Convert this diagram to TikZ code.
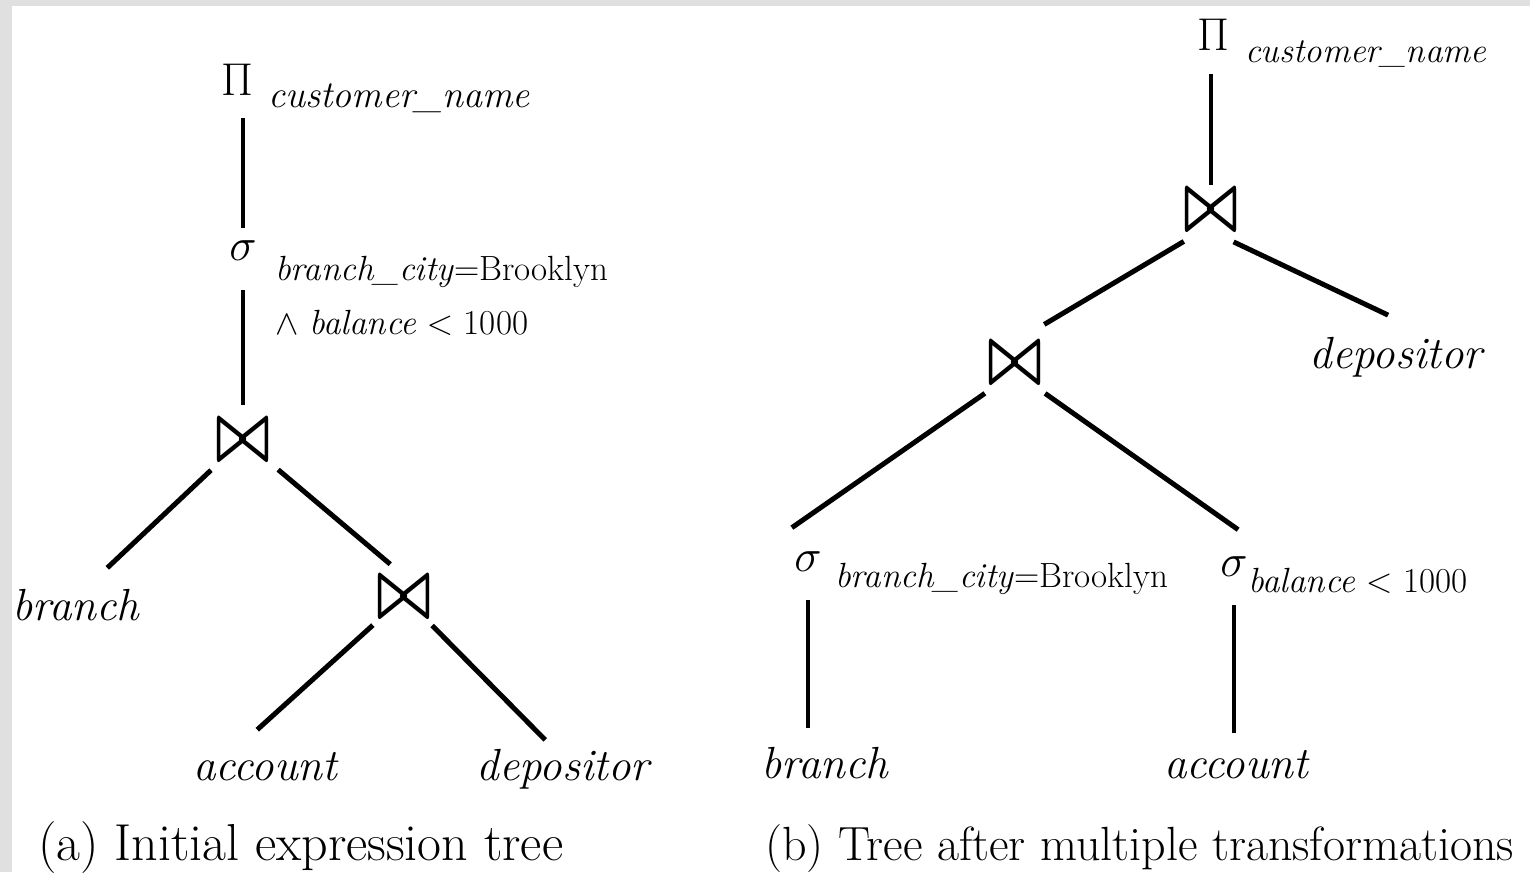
\RequirePackage{fix-cm}
\documentclass[tikz,border=0pt]{standalone}
\usepackage{fontspec}
\usepackage{graphicx}
\newcommand{\joinsym}{\scalebox{1.25}[1.75]{\boldmath$\bowtie$}}
\tikzset{
  op/.style={inner sep=0pt, minimum width=48pt, minimum height=42pt, font=\fontsize{46}{55}\selectfont},
  leaf/.style={inner sep=0pt, text height=30pt, text depth=10pt, anchor=base, font=\fontsize{45}{54}\selectfont\itshape},
  cond/.style={inner sep=0pt, anchor=base west, font=\fontsize{35}{42}\selectfont},
  caption/.style={inner sep=0pt, anchor=base west, font=\fontsize{48}{58}\selectfont},
  edge/.style={line width=5pt},
  stem/.style={line width=3.5pt},
}
\begin{document}
\begin{tikzpicture}[x=1pt,y=-1pt]
      \fill[black!12] (0,0) rectangle (1530,872);
      \fill[white] (12,6) rectangle (1530,872);
      \useasboundingbox (0,0) rectangle (1530,872);
      % (a) initial tree
      \node[op] (piL) at (237,80) {$\Pi$};
      \node[cond, font=\fontsize{38}{46}\selectfont] (piLsub) at (268,108) {\itshape customer\_name};
      \node[op] (sigL) at (243,251) {$\sigma$};
      \node[cond] (sigLsub) at (275,280) {\textit{branch\_city}=Brooklyn};
      \node[cond] (sigLsub2) at (275,334) {$\wedge$ \textit{balance} $<$ 1000};
      \node[op] (joinL1) at (243,440) {\joinsym};
      \node[leaf] (branchL) at (76,620) {branch};
      \node[op] (joinL2) at (404,597) {\joinsym};
      \node[leaf] (accountL) at (265,780) {account};
      \node[leaf] (depositorL) at (563,780) {depositor};
      \draw[stem, shorten <=38pt, shorten >=23pt] (piL.center -| sigL.center) -- (sigL.center);
      \draw[stem, shorten <=39pt, shorten >=35pt] (sigL.center) -- (joinL1.center);
      \draw[edge, shorten <=44pt, shorten >=32pt] (joinL1.center) -- ([xshift=8pt]branchL.north);
      \draw[edge, shorten <=46pt, shorten >=18pt] (joinL1.center) -- (joinL2.north);
      \draw[edge, shorten <=42pt, shorten >=30pt] (joinL2.center) -- ([xshift=-30pt]accountL.north);
      \draw[edge, shorten <=40pt, shorten >=14pt] (joinL2.center) -- ([xshift=-8pt]depositorL.north);
      % (b) transformed tree
      \node[op] (piR) at (1213,35) {$\Pi$};
      \node[cond] (piRsub) at (1245,63) {\itshape customer\_name};
      \node[op] (joinR1) at (1211,210) {\joinsym};
      \node[op] (joinR2) at (1015,363) {\joinsym};
      \node[leaf] (depositorR) at (1396,368) {depositor};
      \node[op] (sigB) at (808,562) {$\sigma$};
      \node[cond] (sigBsub) at (835,587) {\textit{branch\_city}=Brooklyn};
      \node[op] (sigA) at (1234,567) {$\sigma$};
      \node[cond] (sigAsub) at (1248,592) {\textit{balance} $<$ 1000};
      \node[leaf] (branchR) at (825,778) {branch};
      \node[leaf] (accountR) at (1236,778) {account};
      \draw[stem, shorten <=39pt, shorten >=25pt] (piR.center -| joinR1.center) -- (joinR1.center);
      \draw[edge, shorten <=20pt, shorten >=34pt] ([xshift=-10pt]joinR1.south) -- (joinR2.north);
      \draw[edge, shorten <=25pt, shorten >=53pt] (joinR1.south) -- ([xshift=40pt]depositorR.north);
      \draw[edge, shorten <=16pt, shorten >=23pt] ([xshift=-17pt]joinR2.south) -- ([xshift=-35pt]sigB.north);
      \draw[edge, shorten <=16pt, shorten >=28pt] ([xshift=17pt]joinR2.south) -- ([xshift=27pt]sigA.north);
      \draw[stem, shorten <=38pt, shorten >=20pt] (sigB.center) -- (sigB.center |- branchR.north);
      \draw[stem, shorten <=38pt, shorten >=15pt] (sigA.center) -- (sigA.center |- accountR.north);
      % captions
      \node[caption, font=\fontsize{52}{62}\selectfont] (capA) at (38,860) {(a) Initial expression tree};
      \node[caption] (capB) at (765,860) {(b) Tree after multiple transformations};
    \end{tikzpicture}
\end{document}
